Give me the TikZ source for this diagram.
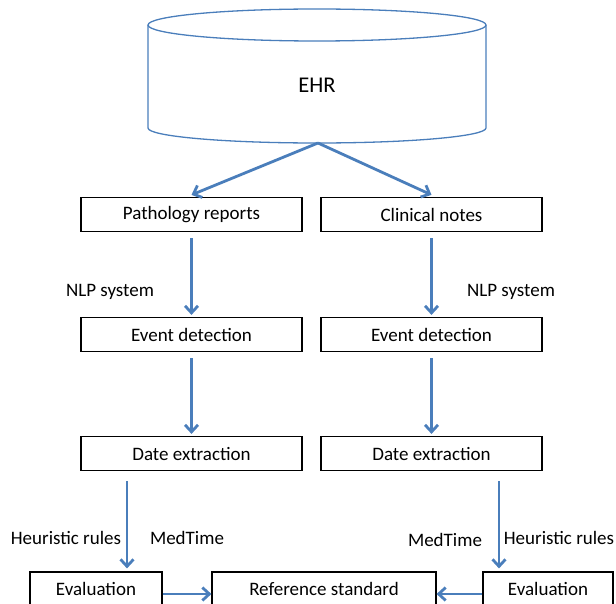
\documentclass[tikz,border=0pt]{standalone}
\usepackage{fontspec}
\setmainfont{Carlito}
\usetikzlibrary{arrows.meta}
\definecolor{ehrblue}{HTML}{4A7EBB}

\begin{document}
\begin{tikzpicture}
  [x=1pt, y=-1pt,
   stage/.style={draw, line width=1.2pt, minimum width=221pt, minimum height=34pt, inner sep=0pt, font=\fontsize{19}{21}\selectfont},
   flow/.style={draw=ehrblue, line width=2.8pt, -{Straight Barb[length=7pt,width=13pt]}},
   tag/.style={inner sep=0pt, font=\fontsize{19}{21}\selectfont}]
  \useasboundingbox (0,0) rectangle (616,604);
  % database
  \draw[ehrblue, line width=1.3pt] (148,25) -- (148,128) arc[start angle=180, end angle=360, x radius=169pt, y radius=15pt] -- (486,25);
  \draw[ehrblue, line width=1.3pt] (317,25) ellipse [x radius=169pt, y radius=16pt];
  \node (ehr) at (317,85) {\fontsize{22.5}{24}\selectfont EHR};
  \coordinate (ehrbase) at (318,143);

  \foreach \c/\x/\src in {1/191.5/Pathology reports, 2/431.5/Clinical notes}{
    \node[stage] (src\c) at (\x,214.5) {\src};
    \node[stage] (evt\c) at (\x,334.5) {Event detection};
    \node[stage] (date\c) at (\x,453.5) {Date extraction};
    \draw[flow] (ehrbase) -- ([yshift=2pt]src\c.north);
    \draw[flow] ([yshift=-6pt]src\c.south) -- ([yshift=2pt]evt\c.north);
    \draw[flow] ([yshift=-6pt]evt\c.south) -- ([yshift=2pt]date\c.north);
  }

  \node[stage, minimum width=132pt] (eval1) at (96,589) {Evaluation};
  \node[stage, minimum width=224pt] (ref) at (324,589) {Reference standard};
  \node[stage, minimum width=130pt] (eval2) at (548,589) {Evaluation};

  \draw[flow] ([xshift=-64.5pt,yshift=-10pt]date1.south) -- ([xshift=31pt,yshift=3pt]eval1.north);
  \draw[flow] ([xshift=67.5pt,yshift=-10pt]date2.south) -- ([xshift=-49pt,yshift=3pt]eval2.north);
  \draw[flow] ([yshift=-5pt]eval1.east) -- ([yshift=-5pt]ref.west);
  \draw[flow] ([yshift=-5pt]eval2.west) -- ([yshift=-5pt]ref.east);

  % labels
  \node[tag] (nlp1) at (110,292) {NLP system};
  \node[tag] (nlp2) at (511,292) {NLP system};
  \node[tag] (heur1) at (66,538) {Heuristic rules};
  \node[tag] (med1) at (187,538) {MedTime};
  \node[tag] (med2) at (445,540) {MedTime};
  \node[tag] (heur2) at (559,538) {Heuristic rules};
\end{tikzpicture}
\end{document}
